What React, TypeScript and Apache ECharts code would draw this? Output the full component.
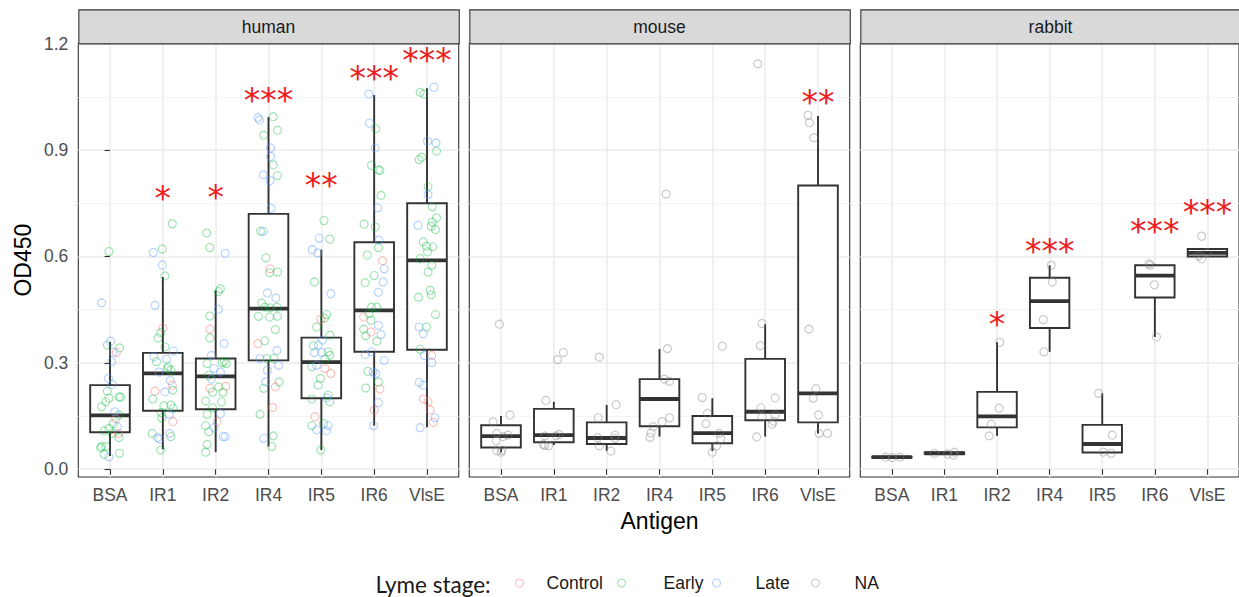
import React, { useEffect, useRef } from 'react';
import * as echarts from 'echarts';

const antigens = ['BSA', 'IR1', 'IR2', 'IR4', 'IR5', 'IR6', 'VlsE'];
const panels = ['human', 'mouse', 'rabbit'];
const yTicks = [0, 0.3, 0.6, 0.9, 1.2];
const yMinorTicks = [0.15, 0.45, 0.75, 1.05];
const xTicks = [0, 1, 2, 3, 4, 5, 6];
const stages = ['Control', 'Early', 'Late', 'NA'];

// box statistics per antigen: [lower whisker, Q1, median, Q3, upper whisker]
const humanBoxes = [
  [0.037, 0.104, 0.152, 0.237, 0.359],
  [0.056, 0.165, 0.270, 0.328, 0.542],
  [0.048, 0.169, 0.262, 0.312, 0.504],
  [0.064, 0.307, 0.453, 0.720, 0.993],
  [0.054, 0.200, 0.302, 0.371, 0.619],
  [0.123, 0.331, 0.448, 0.640, 1.055],
  [0.118, 0.337, 0.589, 0.750, 1.074],
];
const mouseBoxes = [
  [0.048, 0.061, 0.093, 0.124, 0.150],
  [0.068, 0.076, 0.096, 0.170, 0.190],
  [0.052, 0.071, 0.088, 0.132, 0.181],
  [0.092, 0.121, 0.198, 0.254, 0.339],
  [0.051, 0.073, 0.102, 0.150, 0.200],
  [0.092, 0.138, 0.162, 0.311, 0.409],
  [0.101, 0.132, 0.214, 0.800, 0.996],
];
const rabbitBoxes = [
  [0.032, 0.033, 0.034, 0.035, 0.036],
  [0.040, 0.043, 0.045, 0.047, 0.048],
  [0.094, 0.118, 0.149, 0.218, 0.358],
  [0.331, 0.398, 0.474, 0.540, 0.575],
  [0.045, 0.047, 0.071, 0.125, 0.214],
  [0.373, 0.484, 0.546, 0.575, 0.579],
  [0.600, 0.600, 0.610, 0.621, 0.621],
];

// points: [antigen index, jitter, OD450]
const humanControl = [
  [0, 0.12, 0.329], [0, 0.11, 0.143], [0, 0.16, 0.101],
  [1, 0.0, 0.398], [1, 0.18, 0.237], [1, -0.15, 0.220], [1, 0.19, 0.134],
  [2, -0.11, 0.395], [2, -0.11, 0.228], [2, 0.19, 0.234], [2, 0.03, 0.134],
  [3, 0.03, 0.565], [3, -0.2, 0.354], [3, 0.13, 0.232], [3, 0.08, 0.174],
  [4, -0.01, 0.423], [4, 0.07, 0.284], [4, 0.18, 0.270], [4, -0.12, 0.148],
  [5, 0.16, 0.588], [5, -0.2, 0.429], [5, -0.06, 0.387], [5, 0.11, 0.226], [5, 0.0, 0.167],
  [6, 0.09, 0.321], [6, -0.07, 0.198], [6, 0.02, 0.190], [6, 0.06, 0.167], [6, 0.12, 0.132],
];
const humanEarly = [
  [0, -0.02, 0.614], [0, -0.05, 0.350], [0, 0.18, 0.342], [0, -0.05, 0.220], [0, -0.02, 0.200],
  [0, 0.17, 0.204], [0, 0.2, 0.203], [0, -0.16, 0.176], [0, 0.17, 0.153], [0, -0.02, 0.115],
  [0, -0.11, 0.108], [0, 0.04, 0.101], [0, 0.17, 0.089], [0, -0.08, 0.064], [0, -0.16, 0.064],
  [0, -0.11, 0.042], [0, 0.18, 0.045], [0, -0.08, 0.190], [0, 0.06, 0.128], [0, -0.18, 0.060],
  [1, 0.18, 0.692], [1, -0.01, 0.621], [1, 0.04, 0.545], [1, -0.04, 0.385], [1, -0.09, 0.370],
  [1, 0.04, 0.345], [1, -0.12, 0.303], [1, 0.09, 0.284], [1, 0.15, 0.279], [1, 0.19, 0.223],
  [1, -0.19, 0.198], [1, 0.02, 0.179], [1, 0.15, 0.181], [1, 0.2, 0.171], [1, -0.02, 0.145],
  [1, -0.03, 0.160], [1, -0.2, 0.101], [1, 0.15, 0.092], [1, -0.04, 0.054], [1, 0.1, 0.290],
  [2, -0.17, 0.666], [2, -0.11, 0.625], [2, 0.09, 0.509], [2, 0.05, 0.501], [2, -0.11, 0.432],
  [2, -0.11, 0.370], [2, 0.16, 0.303], [2, 0.2, 0.298], [2, -0.16, 0.298], [2, 0.12, 0.300],
  [2, -0.13, 0.265], [2, 0.06, 0.232], [2, -0.06, 0.217], [2, 0.14, 0.217], [2, -0.19, 0.192],
  [2, 0.11, 0.190], [2, -0.06, 0.173], [2, -0.16, 0.155], [2, -0.19, 0.123], [2, -0.13, 0.106],
  [2, -0.16, 0.070], [2, -0.19, 0.048],
  [3, 0.09, 0.994], [3, 0.17, 0.956], [3, -0.09, 0.942], [3, 0.09, 0.858], [3, 0.17, 0.828],
  [3, -0.15, 0.671], [3, -0.05, 0.596], [3, 0.02, 0.554], [3, 0.17, 0.556], [3, -0.13, 0.469],
  [3, -0.07, 0.457], [3, 0.03, 0.455], [3, 0.16, 0.457], [3, -0.19, 0.431], [3, 0.02, 0.429],
  [3, 0.17, 0.431], [3, 0.13, 0.394], [3, -0.07, 0.362], [3, -0.03, 0.312], [3, 0.1, 0.312],
  [3, 0.2, 0.246], [3, -0.09, 0.228], [3, -0.16, 0.155], [3, 0.09, 0.094], [3, 0.06, 0.064],
  [4, 0.05, 0.701], [4, 0.16, 0.649], [4, -0.13, 0.528], [4, 0.1, 0.436], [4, 0.06, 0.426],
  [4, -0.09, 0.401], [4, 0.16, 0.378], [4, -0.15, 0.348], [4, 0.13, 0.331], [4, 0.16, 0.321],
  [4, -0.18, 0.289], [4, -0.02, 0.256], [4, -0.06, 0.237], [4, 0.13, 0.209], [4, 0.16, 0.190],
  [4, -0.18, 0.198], [4, -0.18, 0.123], [4, 0.04, 0.129], [4, -0.01, 0.054], [4, 0.07, 0.310],
  [5, 0.03, 0.960], [5, -0.05, 0.857], [5, 0.08, 0.844], [5, 0.11, 0.842], [5, 0.13, 0.772],
  [5, -0.19, 0.691], [5, 0.02, 0.683], [5, 0.08, 0.625], [5, -0.13, 0.604], [5, 0.0, 0.546],
  [5, -0.17, 0.526], [5, -0.05, 0.457], [5, 0.05, 0.457], [5, -0.1, 0.439], [5, -0.06, 0.420],
  [5, -0.2, 0.395], [5, -0.16, 0.376], [5, 0.05, 0.361], [5, -0.12, 0.276], [5, 0.08, 0.246],
  [5, -0.16, 0.229],
  [6, -0.13, 1.063], [6, -0.06, 1.058], [6, 0.18, 0.897], [6, -0.15, 0.873], [6, -0.1, 0.880],
  [6, 0.02, 0.797], [6, 0.1, 0.740], [6, 0.18, 0.709], [6, 0.1, 0.697], [6, 0.08, 0.685],
  [6, 0.16, 0.676], [6, -0.07, 0.641], [6, -0.01, 0.629], [6, 0.11, 0.627], [6, 0.01, 0.613],
  [6, -0.13, 0.594], [6, 0.09, 0.575], [6, 0.02, 0.556], [6, 0.06, 0.504], [6, 0.08, 0.492],
  [6, -0.16, 0.485], [6, 0.16, 0.436], [6, -0.01, 0.401], [6, -0.13, 0.338],
];
const humanLate = [
  [0, -0.16, 0.469], [0, 0.01, 0.361], [0, 0.03, 0.303], [0, -0.03, 0.256], [0, 0.04, 0.239],
  [0, 0.09, 0.162], [0, 0.14, 0.120], [0, -0.02, 0.035], [0, 0.06, 0.330],
  [1, -0.18, 0.611], [1, -0.01, 0.576], [1, -0.15, 0.462], [1, 0.2, 0.333], [1, -0.17, 0.317],
  [1, 0.07, 0.310], [1, -0.07, 0.274], [1, 0.04, 0.218], [1, 0.12, 0.155], [1, 0.13, 0.101],
  [1, -0.1, 0.089], [1, -0.06, 0.085], [1, 0.14, 0.250],
  [2, 0.18, 0.609], [2, 0.05, 0.451], [2, 0.16, 0.354], [2, -0.08, 0.321], [2, -0.03, 0.284],
  [2, 0.09, 0.274], [2, -0.08, 0.254], [2, 0.09, 0.157], [2, -0.03, 0.117], [2, 0.14, 0.092],
  [2, 0.18, 0.092],
  [3, -0.2, 0.992], [3, -0.17, 0.985], [3, 0.04, 0.906], [3, 0.04, 0.882], [3, -0.1, 0.830],
  [3, 0.03, 0.814], [3, 0.05, 0.736], [3, -0.1, 0.671], [3, -0.02, 0.497], [3, 0.14, 0.483],
  [3, 0.16, 0.335], [3, -0.16, 0.312], [3, -0.02, 0.279], [3, 0.19, 0.293], [3, -0.05, 0.246],
  [3, -0.09, 0.087],
  [4, -0.04, 0.651], [4, -0.17, 0.619], [4, -0.07, 0.610], [4, 0.18, 0.495], [4, 0.02, 0.364],
  [4, -0.06, 0.350], [4, -0.13, 0.329], [4, 0.01, 0.329], [4, -0.09, 0.293], [4, 0.1, 0.201],
  [4, 0.13, 0.123], [4, -0.09, 0.111], [4, 0.1, 0.108],
  [5, -0.1, 1.058], [5, -0.09, 0.976], [5, 0.02, 0.906], [5, 0.07, 0.737], [5, 0.09, 0.646],
  [5, 0.19, 0.565], [5, 0.17, 0.528], [5, 0.08, 0.499], [5, 0.08, 0.406], [5, 0.13, 0.380],
  [5, -0.05, 0.331], [5, -0.17, 0.323], [5, 0.19, 0.307], [5, -0.02, 0.274], [5, 0.03, 0.270],
  [5, 0.08, 0.188], [5, -0.01, 0.123],
  [6, 0.13, 1.077], [6, 0.01, 0.925], [6, 0.17, 0.920], [6, 0.02, 0.775], [6, -0.17, 0.688],
  [6, -0.15, 0.401], [6, -0.07, 0.382], [6, -0.05, 0.321], [6, 0.09, 0.301], [6, -0.15, 0.245],
  [6, -0.07, 0.237], [6, 0.15, 0.145], [6, -0.13, 0.117],
];
const mouseNA = [
  [0, -0.03, 0.409], [0, -0.15, 0.134], [0, 0.17, 0.153], [0, -0.08, 0.101], [0, 0.13, 0.096],
  [0, 0.04, 0.092], [0, -0.09, 0.080], [0, -0.08, 0.052], [0, 0.0, 0.048], [0, 0.02, 0.054],
  [1, 0.18, 0.329], [1, 0.07, 0.309], [1, -0.15, 0.194], [1, -0.17, 0.094], [1, 0.1, 0.098],
  [1, 0.04, 0.094], [1, -0.17, 0.067], [1, -0.1, 0.066], [1, -0.2, 0.070],
  [2, -0.14, 0.316], [2, 0.18, 0.182], [2, -0.16, 0.145], [2, 0.16, 0.096], [2, -0.17, 0.089],
  [2, -0.14, 0.066], [2, 0.08, 0.051], [2, 0.16, 0.087],
  [3, 0.125, 0.776], [3, 0.15, 0.340], [3, 0.09, 0.254], [3, 0.19, 0.248], [3, 0.19, 0.145],
  [3, 0.05, 0.134], [3, -0.12, 0.120], [3, -0.16, 0.102], [3, -0.18, 0.090],
  [4, 0.19, 0.347], [4, -0.19, 0.202], [4, -0.09, 0.158], [4, -0.12, 0.128], [4, 0.13, 0.101],
  [4, 0.16, 0.086], [4, 0.08, 0.066], [4, 0.0, 0.048],
  [5, -0.14, 1.143], [5, -0.06, 0.411], [5, -0.09, 0.348], [5, 0.19, 0.201], [5, -0.08, 0.173],
  [5, 0.19, 0.153], [5, -0.06, 0.148], [5, 0.16, 0.135], [5, 0.13, 0.127], [5, -0.16, 0.091],
  [6, -0.19, 0.998], [6, -0.16, 0.977], [6, -0.08, 0.935], [6, -0.17, 0.395], [6, -0.04, 0.227],
  [6, -0.09, 0.200], [6, 0.01, 0.153], [6, 0.02, 0.101], [6, 0.18, 0.101],
];
const rabbitNA = [
  [0, -0.12, 0.034], [0, 0.01, 0.033], [0, 0.15, 0.034],
  [1, -0.19, 0.045], [1, 0.06, 0.043], [1, 0.17, 0.040], [1, 0.19, 0.048],
  [2, 0.05, 0.358], [2, 0.04, 0.172], [2, -0.11, 0.127], [2, -0.15, 0.094],
  [3, 0.03, 0.575], [3, 0.05, 0.528], [3, -0.12, 0.422], [3, -0.11, 0.331],
  [4, -0.07, 0.214], [4, 0.19, 0.096], [4, 0.02, 0.048], [4, 0.17, 0.045],
  [5, -0.11, 0.579], [5, -0.09, 0.575], [5, -0.01, 0.520], [5, 0.03, 0.373],
  [6, -0.11, 0.657], [6, -0.17, 0.601], [6, -0.01, 0.610], [6, -0.11, 0.593],
];

// significance marks: [antigen index, OD450 position, label]
const humanStars = [[1, 0.776, '*'], [2, 0.778, '*'], [3, 1.052, '***'], [4, 0.812, '**'], [5, 1.112, '***'], [6, 1.163, '***']];
const mouseStars = [[6, 1.046, '**']];
const rabbitStars = [[2, 0.42, '*'], [3, 0.626, '***'], [5, 0.682, '***'], [6, 0.734, '***']];

const stageColors: Record<string, string> = {
  Control: 'rgba(248,118,109,0.6)',
  Early: 'rgba(0,186,56,0.5)',
  Late: 'rgba(97,156,255,0.6)',
  NA: 'rgba(127,127,127,0.55)',
};

const FONT = '"Liberation Sans", Arial, sans-serif';
const PANEL_LEFT = [78.3, 469.3, 860.3];
const PANEL_W = 380.4;
const PANEL_TOP = 43.3;
const PANEL_H = 433.7;
const BOX_WIDTH = 0.75;
const LINE = '#333333';

function boxRender(params: any, api: any) {
  const c = api.value(0);
  const lo = api.coord([c, api.value(1)]);
  const q1 = api.coord([c, api.value(2)]);
  const md = api.coord([c, api.value(3)]);
  const q3 = api.coord([c, api.value(4)]);
  const hi = api.coord([c, api.value(5)]);
  const hw = api.size([BOX_WIDTH, 0])[0] / 2;
  const st = { stroke: LINE, lineWidth: 1.9 };
  return {
    type: 'group',
    children: [
      { type: 'line', shape: { x1: lo[0], y1: hi[1], x2: lo[0], y2: q3[1] }, style: st },
      { type: 'line', shape: { x1: lo[0], y1: q1[1], x2: lo[0], y2: lo[1] }, style: st },
      { type: 'rect', shape: { x: lo[0] - hw, y: q3[1], width: 2 * hw, height: q1[1] - q3[1] }, style: { ...st, fill: '#ffffff' } },
      { type: 'line', shape: { x1: lo[0] - hw, y1: md[1], x2: lo[0] + hw, y2: md[1] }, style: { stroke: LINE, lineWidth: 3.8 } },
    ],
  };
}

function makeStarRender(list: any[]) {
  return (params: any, api: any) => {
    const p = api.coord([api.value(0), api.value(1)]);
    return {
      type: 'text',
      x: p[0],
      y: p[1] + 4,
      style: {
        text: list[params.dataIndex][2],
        fill: '#EE1C1C',
        fontSize: 33,
        fontFamily: '"DejaVu Sans"',
        align: 'center',
        verticalAlign: 'middle',
      },
    };
  };
}

export default function App() {
  const ref = useRef<HTMLDivElement>(null);
  useEffect(() => {
    if (!ref.current) return;
    const chart = echarts.init(ref.current, undefined, { renderer: 'svg' });
    const boxesAll = [humanBoxes, mouseBoxes, rabbitBoxes];
    const starsAll = [humanStars, mouseStars, rabbitStars];
    const pointsAll: [string, number[][]][][] = [
      [['Control', humanControl], ['Early', humanEarly], ['Late', humanLate]],
      [['NA', mouseNA]],
      [['NA', rabbitNA]],
    ];

    const grids = panels.map((_, g) => ({
      left: PANEL_LEFT[g], top: PANEL_TOP, width: PANEL_W, height: PANEL_H,
      show: true, borderColor: LINE, borderWidth: 1.1, backgroundColor: '#ffffff',
      containLabel: false,
    }));

    const xAxes = panels.map((_, g) => ({
      type: 'value', gridIndex: g, min: -0.6, max: 6.6,
      axisLine: { show: false },
      axisTick: { show: true, length: 5.5, customValues: xTicks, lineStyle: { color: LINE, width: 1.1 } },
      axisLabel: {
        customValues: xTicks, color: '#4D4D4D', fontSize: 17.5, fontFamily: FONT, margin: 9,
        formatter: (v: number) => antigens[Math.round(v)] ?? '',
      },
      splitLine: { show: true, lineStyle: { color: '#EBEBEB', width: 1.5 } },
      name: g === 1 ? 'Antigen' : '',
      nameLocation: 'middle', nameGap: 32,
      nameTextStyle: { color: '#000000', fontSize: 23, fontFamily: FONT },
    }));

    const yAxes: any[] = [];
    panels.forEach((_, g) => {
      yAxes.push({
        type: 'value', gridIndex: g, min: -0.022, max: 1.201,
        axisLine: { show: false },
        axisTick: { show: g === 0, length: 5.5, customValues: yTicks, lineStyle: { color: LINE, width: 1.1 } },
        axisLabel: {
          show: g === 0, customValues: yTicks, color: '#4D4D4D', fontSize: 17.5, fontFamily: FONT, margin: 10,
          formatter: (v: number) => v.toFixed(1),
        },
        splitLine: { show: true, lineStyle: { color: '#EBEBEB', width: 1.5 } },
        name: g === 0 ? 'OD450' : '',
        nameLocation: 'middle', nameGap: 44, nameRotate: 90,
        nameTextStyle: { color: '#000000', fontSize: 23, fontFamily: FONT },
      });
      yAxes.push({
        type: 'value', gridIndex: g, min: -0.022, max: 1.201, position: 'left',
        axisLine: { show: false },
        axisTick: { show: false, customValues: yMinorTicks },
        axisLabel: { show: false, customValues: yMinorTicks },
        splitLine: { show: true, lineStyle: { color: '#F3F3F3', width: 0.9 } },
      });
    });

    const series: any[] = [];
    panels.forEach((_, g) => {
      series.push({
        type: 'custom', xAxisIndex: g, yAxisIndex: 2 * g, z: 2,
        renderItem: boxRender,
        encode: { x: 0, y: [1, 2, 3, 4, 5] },
        data: boxesAll[g].map((b, i) => [i, ...b]),
        silent: true,
      });
      pointsAll[g].forEach(([name, pts]) => {
        series.push({
          type: 'scatter', name, xAxisIndex: g, yAxisIndex: 2 * g, z: 3,
          symbol: 'circle', symbolSize: 8, clip: false,
          itemStyle: { color: 'rgba(0,0,0,0)', borderColor: stageColors[name], borderWidth: 1.1 },
          data: pts.map((p) => [p[0] + p[1], p[2]]),
          silent: true,
        });
      });
      const st = starsAll[g];
      series.push({
        type: 'custom', xAxisIndex: g, yAxisIndex: 2 * g, z: 4,
        renderItem: makeStarRender(st),
        encode: { x: 0, y: 1 },
        data: st.map((s) => [s[0], s[1]]),
        silent: true,
      });
    });

    const legendItems = [
      { name: 'Control', center: 519, textStart: 546 },
      { name: 'Early', center: 621, textStart: 663 },
      { name: 'Late', center: 716, textStart: 755 },
      { name: 'NA', center: 815, textStart: 854 },
    ];
    const legends = legendItems.map((it) => ({
      show: true, left: it.center - 4, top: 574, padding: 0,
      itemWidth: 8, itemHeight: 8, selectedMode: false,
      textStyle: {
        color: '#1A1A1A', fontSize: 17.5, fontFamily: FONT,
        padding: [0, 0, 0, it.textStart - (it.center + 9)],
      },
      data: [{
        name: it.name, icon: 'circle',
        itemStyle: { color: 'rgba(0,0,0,0)', borderColor: stageColors[it.name], borderWidth: 1.1 },
      }],
    }));

    const graphics: any[] = [];
    panels.forEach((p, g) => {
      graphics.push({
        type: 'rect', left: PANEL_LEFT[g], top: 9.3, z: 10,
        shape: { width: PANEL_W, height: PANEL_TOP - 9.3 },
        style: { fill: '#D9D9D9', stroke: LINE, lineWidth: 1.1 },
      });
      graphics.push({
        type: 'text', x: PANEL_LEFT[g] + PANEL_W / 2, y: 26.6, z: 11,
        style: { text: p, fill: '#1A1A1A', fontSize: 17.5, fontFamily: FONT, align: 'center', verticalAlign: 'middle' },
      });
    });
    graphics.push({
      type: 'text', x: 375.5, y: 584, z: 11,
      style: { text: 'Lyme stage:', fill: '#1A1A1A', fontSize: 22.5, fontFamily: 'Lato', align: 'left', verticalAlign: 'middle' },
    });

    chart.setOption({
      animation: false,
      backgroundColor: '#ffffff',
      grid: grids,
      xAxis: xAxes,
      yAxis: yAxes,
      series,
      legend: legends,
      graphic: graphics,
    });
    return () => chart.dispose();
  }, []);
  return <div ref={ref} style={{ position: 'absolute', left: 0, top: 0, width: 1239, height: 597 }} />;
}
